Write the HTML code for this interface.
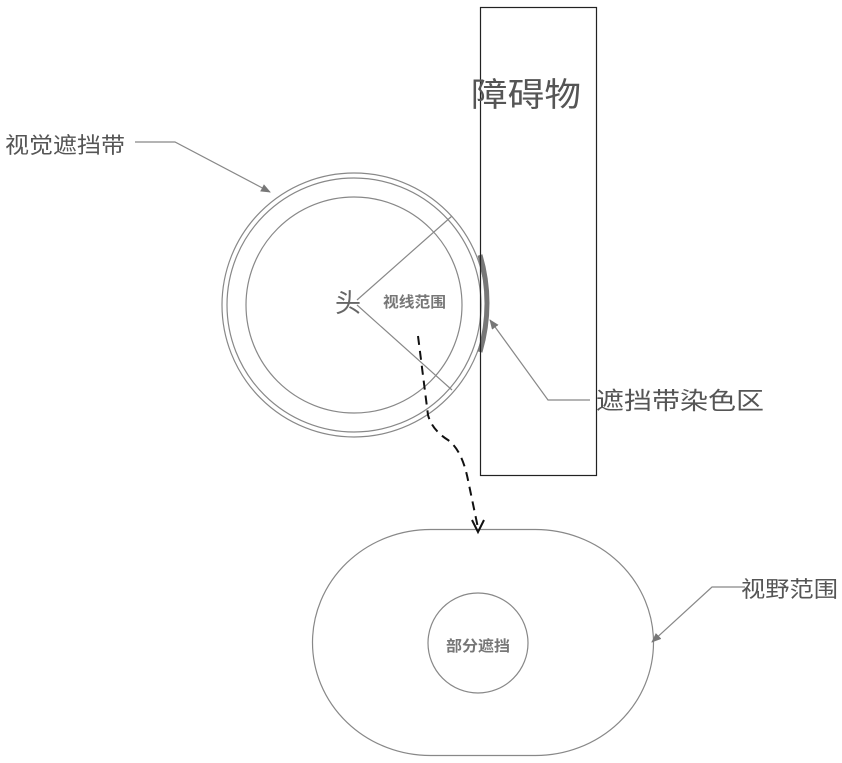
<html><body style="margin:0;background:#fff">
<svg width="842" height="763" viewBox="0 0 842 763" xmlns="http://www.w3.org/2000/svg" style="font-family:'Liberation Sans','Noto Sans CJK SC',sans-serif">
<defs><marker id="a" markerWidth="10" markerHeight="8" refX="9" refY="4" orient="auto" markerUnits="userSpaceOnUse"><path d="M0,0 L10,4 L0,8 Z" fill="#777"/></marker></defs>
<g fill="none" stroke="#888" stroke-width="1.2">
<circle cx="354" cy="305" r="132"/>
<circle cx="354" cy="305" r="127"/>
<circle cx="354" cy="305" r="108"/>
<line x1="357" y1="300" x2="452" y2="216"/>
<line x1="357" y1="305" x2="452" y2="390"/>
<rect x="312.5" y="529.5" width="341" height="226" rx="118" ry="113"/>
<circle cx="478" cy="643" r="50"/>
<polyline points="135,142 175,142 270,192" marker-end="url(#a)"/>
<polyline points="590,400 548,400 490,320" marker-end="url(#a)"/>
<polyline points="745,587 712,587 652,642" marker-end="url(#a)"/>
</g>
<path d="M480,255 Q494,303 480,352" fill="none" stroke="#777" stroke-width="5"/>
<rect x="480.5" y="7.5" width="116" height="468" fill="none" stroke="#222" stroke-width="1.2"/>
<path d="M418,336 L428,415 Q432,430 448,440 Q462,450 468,480 L478,528" fill="none" stroke="#111" stroke-width="2" stroke-dasharray="9,6"/>
<path d="M472,520 L478,532 L484,520" fill="none" stroke="#111" stroke-width="2"/>
<g fill="#555">
<text x="471" y="106" font-size="33" textLength="110" lengthAdjust="spacingAndGlyphs">障碍物</text>
<text x="5" y="153" font-size="22" textLength="120" lengthAdjust="spacingAndGlyphs">视觉遮挡带</text>
<text x="335" y="312" font-size="26" fill="#666">头</text>
<text x="383" y="307" font-size="15" font-weight="bold" fill="#777" textLength="63" lengthAdjust="spacingAndGlyphs">视线范围</text>
<text x="596" y="409" font-size="24" textLength="168" lengthAdjust="spacingAndGlyphs">遮挡带染色区</text>
<text x="741" y="597" font-size="22" textLength="97" lengthAdjust="spacingAndGlyphs">视野范围</text>
<text x="446" y="651" font-size="15" font-weight="bold" fill="#777" textLength="64" lengthAdjust="spacingAndGlyphs">部分遮挡</text>
</g>
</svg>
</body></html>
